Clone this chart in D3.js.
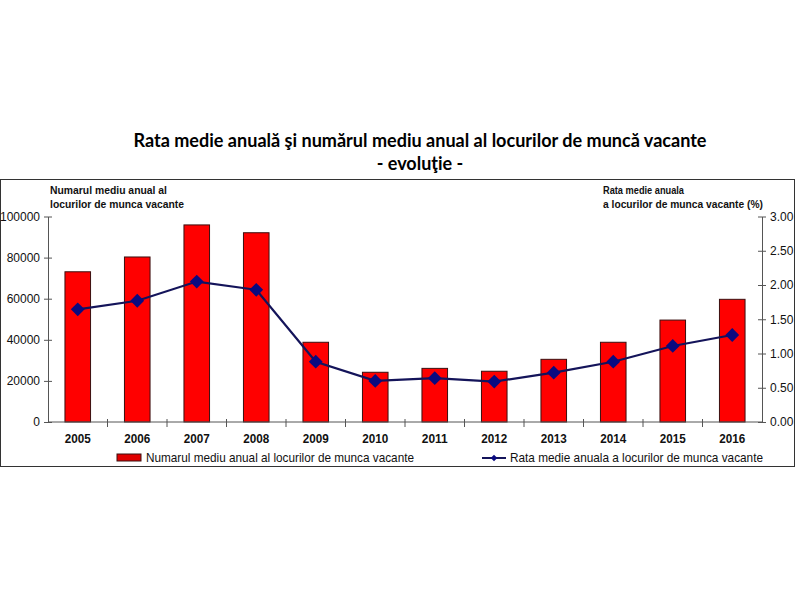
<!DOCTYPE html>
<html><head><meta charset="utf-8">
<script src="https://cdn.jsdelivr.net/npm/d3@7/dist/d3.min.js"></script>
<style>body{margin:0;background:#fff}svg{display:block}</style>
</head><body>
<svg id="c" width="800" height="600"></svg>
<script>
const years = ["2005","2006","2007","2008","2009","2010","2011","2012","2013","2014","2015","2016"];
const vacancies = [73100,80300,95900,92100,38800,24200,26100,24700,30500,38800,49600,59700];
const rates = [1.645,1.77,2.05,1.93,0.88,0.60,0.64,0.59,0.72,0.88,1.11,1.27];
const leftTicks = [0,20000,40000,60000,80000,100000];
const rightTicks = [0,0.5,1,1.5,2,2.5,3];

const svg = d3.select("#c");
const L = 48, R = 762, T = 216.5, B = 422;
const x = d3.scaleBand().domain(years).range([L,R]).paddingInner(0.57).paddingOuter(0.285);
const band = d3.scaleBand().domain(years).range([L,R]);
const yL = d3.scaleLinear().domain([0,100000]).range([B,T]);
const yR = d3.scaleLinear().domain([0,3]).range([B,T]);
const narrow = "'Liberation Sans', Arial, sans-serif";

// frame
svg.append("rect").attr("x",0.5).attr("y",179.5).attr("width",794).attr("height",287)
  .attr("fill","none").attr("stroke","#333").attr("stroke-width",1);

// title
svg.append("text").attr("x",420).attr("y",147).attr("text-anchor","middle")
  .attr("font-family","Lato, sans-serif").attr("font-weight","bold").attr("font-size",18)
  .attr("textLength",573).attr("lengthAdjust","spacingAndGlyphs")
  .text("Rata medie anuală şi numărul mediu anual al locurilor de muncă vacante");
svg.append("text").attr("x",420).attr("y",170).attr("text-anchor","middle")
  .attr("font-family","Lato, sans-serif").attr("font-weight","bold").attr("font-size",18)
  .text("- evoluţie -");

// axis titles
function t(xx,yy,s,len){svg.append("text").attr("x",xx).attr("y",yy)
  .attr("font-family",narrow).attr("font-size",11).attr("font-weight","bold").attr("fill","#111")
  .attr("textLength",len).attr("lengthAdjust","spacingAndGlyphs").text(s);}
t(50,194,"Numarul mediu anual al",117);
t(50,208,"locurilor de munca vacante",134);
t(603,194,"Rata medie anuala",81);
t(603,208,"a locurilor de munca vacante (%)",160);

// bars
svg.append("g").selectAll("rect").data(years).join("rect")
  .attr("x",d=>x(d)).attr("width",x.bandwidth())
  .attr("y",(d,i)=>yL(vacancies[i])).attr("height",(d,i)=>B-yL(vacancies[i]))
  .attr("fill","#ff0000").attr("stroke","#3a1010").attr("stroke-width",1);

// left axis
const gl = svg.append("g").attr("transform",`translate(${L},0)`)
  .call(d3.axisLeft(yL).tickValues(leftTicks).tickFormat(d3.format("d")).tickSizeInner(4).tickSizeOuter(0));
gl.selectAll(".tick line").attr("x1",4).attr("x2",-4);
gl.selectAll("text").attr("x",-8);
// right axis
const gr = svg.append("g").attr("transform",`translate(${R},0)`)
  .call(d3.axisRight(yR).tickValues(rightTicks).tickFormat(d3.format(".2f")).tickSizeInner(4).tickSizeOuter(0));
gr.selectAll(".tick line").attr("x1",-4).attr("x2",4);
gr.selectAll("text").attr("x",8);
[gl,gr].forEach(g=>{g.select(".domain").attr("stroke","#555");g.selectAll(".tick line").attr("stroke","#555");
  g.selectAll("text").attr("font-family",narrow).attr("font-size",12).attr("fill","#111");});

// x axis
svg.append("line").attr("x1",L).attr("x2",R).attr("y1",B).attr("y2",B).attr("stroke","#555");
svg.append("g").selectAll("line").data(years.slice(1)).join("line")
  .attr("x1",d=>band(d)).attr("x2",d=>band(d)).attr("y1",B-3).attr("y2",B+5).attr("stroke","#555");
svg.append("g").selectAll("text").data(years).join("text")
  .attr("x",d=>band(d)+band.bandwidth()/2).attr("y",443).attr("text-anchor","middle")
  .attr("font-family",narrow).attr("font-weight","bold").attr("font-size",13)
  .attr("textLength",26).attr("lengthAdjust","spacingAndGlyphs")
  .attr("fill","#111").text(d=>d);

// line
const cx = d=>band(d)+band.bandwidth()/2;
const line = d3.line().x((d,i)=>cx(years[i])).y(d=>yR(d));
svg.append("path").datum(rates).attr("d",line).attr("fill","none").attr("stroke","#14145a").attr("stroke-width",2.2);
svg.append("g").selectAll("path").data(rates).join("path")
  .attr("d",d3.symbol().type(d3.symbolSquare).size(95))
  .attr("transform",(d,i)=>`translate(${cx(years[i])},${yR(d)}) rotate(45)`)
  .attr("fill","#0a0a80");

// legend
svg.append("rect").attr("x",117).attr("y",454).attr("width",24).attr("height",7).attr("fill","#e00000").attr("stroke","#3a1010");
svg.append("text").attr("x",146).attr("y",462).attr("font-family",narrow)
  .attr("font-size",13).attr("fill","#111").attr("textLength",268).attr("lengthAdjust","spacingAndGlyphs")
  .text("Numarul mediu anual al locurilor de munca vacante");
svg.append("line").attr("x1",482).attr("x2",506).attr("y1",458).attr("y2",458).attr("stroke","#14145a").attr("stroke-width",2);
svg.append("path").attr("d",d3.symbol().type(d3.symbolSquare).size(22)).attr("transform","translate(494,458) rotate(45)").attr("fill","#0a0a80");
svg.append("text").attr("x",510).attr("y",462).attr("font-family",narrow)
  .attr("font-size",13).attr("fill","#111").attr("textLength",253).attr("lengthAdjust","spacingAndGlyphs")
  .text("Rata medie anuala a locurilor de munca vacante");
</script>
</body></html>
